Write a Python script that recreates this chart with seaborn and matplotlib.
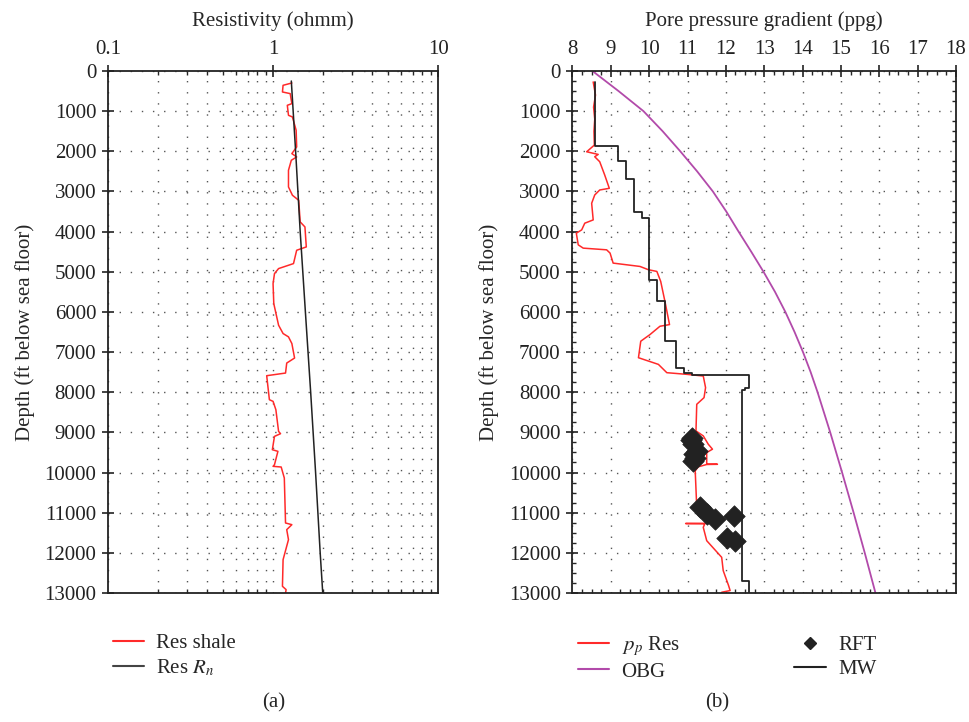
import matplotlib
matplotlib.use('Agg')
import matplotlib.pyplot as plt
import seaborn as sns
from matplotlib.lines import Line2D
from matplotlib.ticker import LogLocator, FixedLocator, NullFormatter

# (a) resistivity, shale points and normal trend
res_depth = [299, 357, 523, 564, 813, 855, 1104, 1145, 1477, 1892, 2058, 2141, 2224, 2473,
             2888, 3095, 3220, 3759, 3884, 4382, 4465, 4797, 4921, 5046, 5295, 5793, 6332,
             6539, 6622, 6788, 7149, 7274, 7523, 7589, 8187, 8228, 8436, 8975, 9033, 9100,
             9432, 9473, 9805, 9846, 9863, 10137, 11257, 11299, 11423, 11672, 12170, 12834,
             12917, 13000]
res_shale = [1.30, 1.15, 1.14, 1.27, 1.30, 1.22, 1.24, 1.31, 1.38, 1.39, 1.30, 1.39, 1.29, 1.24,
             1.24, 1.31, 1.43, 1.46, 1.56, 1.59, 1.39, 1.33, 1.08, 1.02, 1.00, 1.01, 1.08,
             1.15, 1.24, 1.30, 1.35, 1.21, 1.19, 0.915, 0.95, 1.00, 1.04, 1.08, 1.11, 1.02,
             0.99, 1.07, 1.02, 1.00, 1.12, 1.17, 1.19, 1.30, 1.21, 1.24, 1.15, 1.14,
             1.20, 1.19]
rn_depth = [250, 2000, 4000, 6000, 8000, 10000, 12000, 13000]
rn_res = [1.29, 1.37, 1.46, 1.57, 1.69, 1.81, 1.93, 2.00]

# (b) pore pressure gradient
pp_depth = [273, 600, 900, 1200, 1500, 1846, 2012, 2078, 2136, 2260, 2591, 2922, 2964, 3088,
            3295, 3709, 3791, 3957, 4040, 4330, 4412, 4454, 4536, 4785, 4868, 4950, 4992,
            5240, 5737, 6316, 6358, 6565, 6730, 7141, 7224, 7307, 7514, 7555, 7597, 7886,
            8135, 8301, 8964, 9088, 9295, 9419, 9502, 9792, 9795, 9800, 9858, 9958, 10869,
            11267, 11270, 11275, 11366, 11698, 12112, 12443, 12816, 12940, 12982]
pp_ppg = [8.54, 8.60, 8.55, 8.58, 8.56, 8.57, 8.37, 8.67, 8.58, 8.71, 8.84, 8.96, 8.71, 8.58,
          8.50, 8.54, 8.32, 8.24, 8.10, 8.15, 8.28, 8.89, 8.98, 9.06, 9.76, 9.98, 10.20,
          10.30, 10.41, 10.53, 10.28, 10.02, 9.78, 9.72, 9.98, 10.24, 10.46, 10.98, 11.41, 11.47,
          11.43, 11.24, 11.22, 11.41, 11.54, 11.65, 11.50, 11.50, 11.78, 11.50, 11.28, 11.20, 11.24,
          11.50, 10.95, 11.45, 11.41, 11.50, 11.89, 11.93, 12.07, 12.11, 11.89]
obg_depth = [0, 500, 1000, 1500, 2000, 2500, 3000, 3500, 4000, 4500, 5000, 5500, 6000, 6500,
             7000, 7500, 8000, 9000, 10000, 11000, 12000, 13000]
obg_ppg = [8.52, 9.20, 9.85, 10.35, 10.81, 11.25, 11.66, 12.01, 12.33, 12.66, 12.98, 13.28,
           13.55, 13.79, 14.01, 14.21, 14.39, 14.72, 15.03, 15.33, 15.62, 15.90]
mw_depth = [273, 1863, 1863, 2235, 2235, 2699, 2699, 3518, 3518, 3667, 3667, 5215, 5215,
            5737, 5737, 6730, 6730, 7406, 7406, 7514, 7514, 7580, 7580, 7886, 7886, 7944,
            7944, 12692, 12692, 13000]
mw_ppg = [8.59, 8.59, 9.19, 9.19, 9.39, 9.39, 9.60, 9.60, 9.80, 9.80, 10.0, 10.0, 10.21,
          10.21, 10.40, 10.40, 10.70, 10.70, 10.91, 10.91, 11.11, 11.11, 12.61, 12.61, 12.50,
          12.50, 12.42, 12.42, 12.61, 12.61]
rft_depth = [9129, 9200, 9295, 9461, 9550, 9627, 9709, 10869, 11035, 11159, 11076, 11631, 11698]
rft_ppg = [11.11, 11.08, 11.15, 11.24, 11.18, 11.20, 11.14, 11.33, 11.50, 11.72, 12.22, 12.02, 12.24]

sns.set_theme(style='ticks')
plt.rcParams['font.family'] = ['Liberation Serif', 'DejaVu Serif']
plt.rcParams['mathtext.fontset'] = 'stix'

red = '#ff2a2a'
purple = '#b24aaa'
fs = 15

fig = plt.figure(figsize=(9.69, 7.22), dpi=100)
ax1 = fig.add_axes([0.1115, 0.1787, 0.3406, 0.723])
ax2 = fig.add_axes([0.5908, 0.1787, 0.3958, 0.723])

sns.lineplot(x=res_shale, y=res_depth, sort=False, estimator=None, color=red, lw=1.1, ax=ax1)
sns.lineplot(x=rn_res, y=rn_depth, sort=False, estimator=None, color='#222222', lw=1.1, ax=ax1)
ax1.set_xscale('log')
ax1.set_xlim(0.1, 10)

sns.lineplot(x=pp_ppg, y=pp_depth, sort=False, estimator=None, color=red, lw=1.1, ax=ax2)
sns.lineplot(x=obg_ppg, y=obg_depth, sort=False, estimator=None, color=purple, lw=1.3, ax=ax2)
sns.lineplot(x=mw_ppg, y=mw_depth, sort=False, estimator=None, color='#222222', lw=1.3, ax=ax2)
sns.scatterplot(x=rft_ppg, y=rft_depth, marker='D', s=120, color='#222222', edgecolor='#222222',
                linewidth=0.5, zorder=5, ax=ax2)
ax2.set_xlim(8, 18)
ax2.xaxis.set_major_locator(FixedLocator(range(8, 19)))
ax2.xaxis.set_minor_locator(FixedLocator([x / 4 for x in range(32, 73)]))

for ax in (ax1, ax2):
    ax.set_ylim(13000, 0)
    ax.yaxis.set_major_locator(FixedLocator(range(0, 13001, 1000)))
    ax.xaxis.tick_top()
    ax.xaxis.set_label_position('top')
    ax.set_ylabel('Depth (ft below sea floor)', fontsize=fs, labelpad=7)
    for s in ax.spines.values():
        s.set_visible(True)
        s.set_linewidth(1.3)
        s.set_color('#222222')
    ax.tick_params(axis='both', which='major', direction='inout', length=9, width=1.2,
                   labelsize=fs, colors='#222222', pad=4)
    ax.tick_params(axis='x', which='minor', direction='in', length=3, top=True, bottom=True)
    ax.tick_params(axis='y', which='minor', direction='in', length=3, right=True)

ax1.xaxis.set_major_locator(LogLocator(base=10, numticks=5))
ax1.xaxis.set_minor_locator(LogLocator(base=10, subs=range(2, 10), numticks=20))
ax1.xaxis.set_minor_formatter(NullFormatter())
ax1.set_xticks([0.1, 1, 10])
ax1.set_xticklabels(['0.1', '1', '10'])
ax1.set_xlabel('Resistivity (ohmm)', fontsize=fs, labelpad=10)
ax2.set_xlabel('Pore pressure gradient (ppg)', fontsize=fs, labelpad=10)
ax2.yaxis.set_minor_locator(FixedLocator(range(0, 13001, 250)))
ax1.yaxis.set_minor_locator(FixedLocator([]))

grid_kw = dict(color='#555555', linestyle=(0, (1, 7)), linewidth=1.0)
ax1.grid(True, which='minor', axis='x', **grid_kw)
ax1.grid(True, which='major', axis='x', **grid_kw)
ax1.grid(True, which='major', axis='y', **grid_kw)
ax2.grid(True, which='major', axis='both', **grid_kw)

leg_a = [Line2D([], [], color=red, lw=1.5), Line2D([], [], color='#444444', lw=1.5)]
fig.legend(leg_a, ['Res shale', 'Res $R_n$'], loc='upper left', bbox_to_anchor=(0.097, 0.148),
           frameon=False, fontsize=fs, handlelength=1.5, handletextpad=0.6, labelspacing=0.2)

leg_b = [Line2D([], [], color=red, lw=1.5), Line2D([], [], color=purple, lw=1.5),
         Line2D([], [], color='#222222', marker='D', ls='', markersize=6),
         Line2D([], [], color='#222222', lw=1.5)]
fig.legend(leg_b, ['$p_p$ Res', 'OBG', 'RFT', 'MW'], loc='upper left', ncol=2,
           bbox_to_anchor=(0.577, 0.148), frameon=False, fontsize=fs, handlelength=1.5,
           handletextpad=0.6, labelspacing=0.2, columnspacing=5.5)

fig.text(0.282, 0.02, '(a)', ha='center', fontsize=fs)
fig.text(0.740, 0.02, '(b)', ha='center', fontsize=fs)

plt.savefig('out.png', dpi=100)
